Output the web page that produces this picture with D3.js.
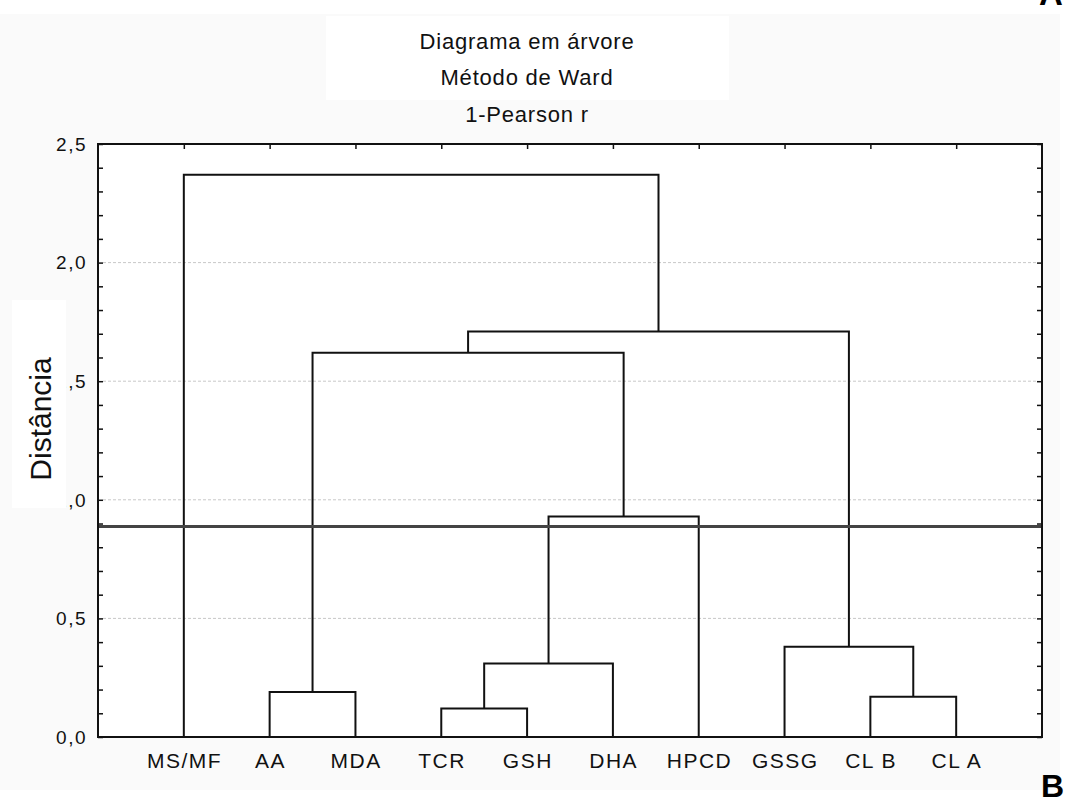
<!DOCTYPE html>
<html>
<head>
<meta charset="utf-8">
<script src="https://cdn.jsdelivr.net/npm/d3@7"></script>
<style>
  html, body { margin: 0; padding: 0; background: #ffffff; }
  svg { display: block; }
  text { font-family: "Liberation Sans", Arial, sans-serif; }
</style>
</head>
<body>
<svg id="chart" width="1065" height="810"></svg>
<script>
// ---- data ----
const titleLines = ["Diagrama em árvore", "Método de Ward", "1-Pearson r"];
const yAxisTitle = "Distância";
const leaves = ["MS/MF", "AA", "MDA", "TCR", "GSH", "DHA", "HPCD", "GSSG", "CL B", "CL A"];
const mergeIds    = ["c1", "c2", "c3", "c4", "c5", "c6", "c7", "c8", "c9"];
const mergeLeft   = ["AA", "TCR", "c2", "c3", "c1", "CL B", "GSSG", "c5", "MS/MF"];
const mergeRight  = ["MDA", "GSH", "DHA", "HPCD", "c4", "CL A", "c6", "c7", "c8"];
const mergeHeight = [0.19, 0.12, 0.31, 0.93, 1.62, 0.17, 0.38, 1.71, 2.37];
const cutHeight = 0.887;
const yTickValues = [0, 0.5, 1.0, 1.5, 2.0, 2.5];
const yTickLabels = ["0,0", "0,5", "1,0", "1,5", "2,0", "2,5"];
const gridValues = [0.5, 1.0, 1.5, 2.0];

// ---- layout ----
const L = 98, R = 1042, T = 144, B = 737;
const svg = d3.select("#chart");

// backgrounds
svg.append("rect").attr("x", 0).attr("y", 14).attr("width", 1060).attr("height", 776).attr("fill", "#fafafa");
svg.append("rect").attr("x", 326).attr("y", 16).attr("width", 403).attr("height", 84).attr("fill", "#ffffff");
svg.append("rect").attr("x", L).attr("y", T).attr("width", R - L).attr("height", B - T).attr("fill", "#ffffff");

const x = d3.scalePoint().domain(leaves).range([L, R]).padding(1);
const y = d3.scaleLinear().domain([0, 2.5]).range([B, T]);

// title
const titleBase = [49, 85, 122];
svg.append("g").selectAll("text").data(titleLines).join("text")
  .attr("x", 527).attr("y", (d, i) => titleBase[i])
  .attr("text-anchor", "middle")
  .attr("font-size", 22).attr("letter-spacing", "0.8px")
  .attr("fill", "#111").text(d => d);

// gridlines
svg.append("g").selectAll("line").data(gridValues).join("line")
  .attr("x1", L + 5).attr("x2", R - 5)
  .attr("y1", d => y(d)).attr("y2", d => y(d))
  .attr("stroke", "#c8c8c8").attr("stroke-width", 1).attr("stroke-dasharray", "3,2");

// minor ticks via axes (inward)
const minor = d3.range(0, 26).map(i => i / 10);
const leftAx = svg.append("g").attr("transform", `translate(${L},0)`)
  .call(d3.axisLeft(y).tickValues(minor).tickSize(-5).tickFormat(""));
const rightAx = svg.append("g").attr("transform", `translate(${R},0)`)
  .call(d3.axisRight(y).tickValues(minor).tickSize(-5).tickFormat(""));
const topAx = svg.append("g").attr("transform", `translate(0,${T})`)
  .call(d3.axisTop(x).tickSize(-5).tickFormat(""));
[leftAx, rightAx, topAx].forEach(g => {
  g.select(".domain").remove();
  g.selectAll("line").attr("stroke", "#111").attr("stroke-width", 1.5);
});

// y tick labels
svg.append("g").selectAll("text").data(yTickValues).join("text")
  .attr("x", 87).attr("y", d => y(d)).attr("dy", "0.36em")
  .attr("text-anchor", "end").attr("font-size", 19).attr("letter-spacing", "1.5px")
  .attr("fill", "#111").text((d, i) => yTickLabels[i]);

// x labels
svg.append("g").selectAll("text").data(leaves).join("text")
  .attr("x", d => x(d) + 0.75).attr("y", 767.5)
  .attr("text-anchor", "middle").attr("font-size", 21).attr("letter-spacing", "1.5px")
  .attr("fill", "#111").text(d => d);

// dendrogram
const pos = {};
leaves.forEach(l => { pos[l] = { x: x(l), h: 0 }; });
const merges = mergeIds.map((id, i) => ({ id, left: mergeLeft[i], right: mergeRight[i], h: mergeHeight[i] }));
merges.forEach(m => { pos[m.id] = { x: (pos[m.left].x + pos[m.right].x) / 2, h: m.h }; });

svg.append("g").selectAll("path").data(merges).join("path")
  .attr("d", m => {
    const a = pos[m.left], b = pos[m.right];
    const p = d3.path();
    p.moveTo(a.x, y(a.h));
    p.lineTo(a.x, y(m.h));
    p.lineTo(b.x, y(m.h));
    p.lineTo(b.x, y(b.h));
    return p.toString();
  })
  .attr("fill", "none").attr("stroke", "#111").attr("stroke-width", 2);

// cut line
svg.append("line").attr("x1", L).attr("x2", R).attr("y1", y(cutHeight)).attr("y2", y(cutHeight))
  .attr("stroke", "#444").attr("stroke-width", 3);

// frame
svg.append("rect").attr("x", L).attr("y", T).attr("width", R - L).attr("height", B - T)
  .attr("fill", "none").attr("stroke", "#111").attr("stroke-width", 2);

// y axis title box (covers leading digits)
svg.append("rect").attr("x", 12).attr("y", 300).attr("width", 54).attr("height", 208).attr("fill", "#ffffff");
svg.append("text").attr("transform", "translate(51,419) rotate(-90)")
  .attr("text-anchor", "middle").attr("font-size", 30).attr("fill", "#111").text(yAxisTitle);

// panel letters
svg.append("text").attr("x", 1039).attr("y", 5).attr("font-size", 33).attr("font-weight", "bold").attr("fill", "#000").text("A");
svg.append("text").attr("x", 1041).attr("y", 797).attr("font-size", 32).attr("font-weight", "bold").attr("fill", "#000").text("B");
</script>
</body>
</html>
